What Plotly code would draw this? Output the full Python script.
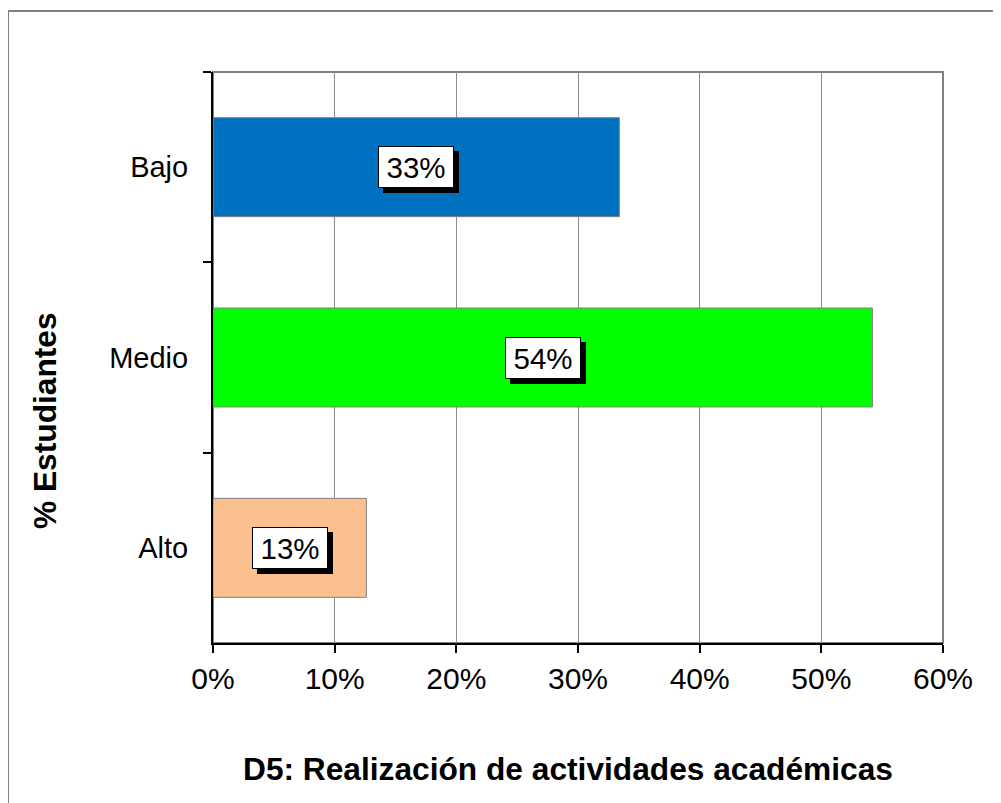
import plotly.graph_objects as go

categories = ["Bajo", "Medio", "Alto"]
values = [0.334, 0.542, 0.126]
bar_colors = ["#0070C0", "#00FF00", "#FAC090"]
x_ticks = [0, 0.1, 0.2, 0.3, 0.4, 0.5, 0.6]
x_title = "D5: Realización de actividades académicas"
y_title = "% Estudiantes"

FONT = "Liberation Sans, Arial, sans-serif"

fig = go.Figure()
fig.add_trace(go.Bar(
    x=values, y=categories, orientation="h",
    marker=dict(color=bar_colors, line=dict(color="#808080", width=1)),
    hoverinfo="skip",
))

annotations = []
for cat, v in zip(categories, values):
    label = f"{round(v * 100)}%"
    common = dict(x=v / 2, y=cat, xref="x", yref="y", showarrow=False,
                  width=64, height=30, borderpad=5, borderwidth=1, align="center",
                  valign="middle")
    # drop shadow box (no text)
    annotations.append(dict(common, text=" ", bgcolor="black", bordercolor="black",
                            font=dict(family=FONT, size=29.5, color="black"),
                            xshift=5, yshift=-5))
    annotations.append(dict(common, text=label, bgcolor="white", bordercolor="black",
                            font=dict(family=FONT, size=29.5, color="black")))

annotations.append(dict(x=(568 - 213) / 730, y=(643 - 769) / 571, xref="paper", yref="paper",
                        text=f"<b>{x_title}</b>", showarrow=False,
                        font=dict(family=FONT, size=31.7, color="black"),
                        xanchor="center", yanchor="middle"))
annotations.append(dict(x=(45 - 213) / 730, y=(643 - 421) / 571, xref="paper", yref="paper",
                        text=f"<b>{y_title}</b>", showarrow=False, textangle=-90,
                        font=dict(family=FONT, size=31.7, color="black"),
                        xanchor="center", yanchor="middle"))

shapes = [
    # outer chart frame
    dict(type="rect", xref="paper", yref="paper",
         x0=(8 - 213) / 730, x1=(1020 - 213) / 730,
         y0=(643 - 830) / 571, y1=(643 - 11) / 571,
         line=dict(color="#808080", width=2), fillcolor="rgba(0,0,0,0)", layer="below"),
    # plot area frame
    dict(type="rect", xref="paper", yref="paper", x0=0, x1=1, y0=0, y1=1,
         line=dict(color="#808080", width=2), fillcolor="rgba(0,0,0,0)", layer="below"),
]

fig.update_layout(
    width=993, height=795,
    margin=dict(l=205, r=58, t=64, b=160, pad=0),
    paper_bgcolor="white", plot_bgcolor="white",
    showlegend=False,
    bargap=0.48,
    font=dict(family=FONT, size=29, color="black"),
    annotations=annotations,
    shapes=shapes,
    xaxis=dict(range=[0, 0.6], tickvals=x_ticks, tickformat=".0%",
               showgrid=True, gridcolor="#8c8c8c", gridwidth=1,
               showline=True, linecolor="black", linewidth=2,
               ticks="outside", ticklen=8, tickwidth=2, tickcolor="black",
               tickfont=dict(family=FONT, size=30, color="black"),
               zeroline=False, fixedrange=True),
    yaxis=dict(autorange="reversed", showgrid=False,
               showline=True, linecolor="black", linewidth=2,
               ticks="outside", ticklen=8, tickwidth=2, tickcolor="black",
               tickson="boundaries", ticklabelstandoff=17,
               tickfont=dict(family=FONT, size=29, color="black"),
               zeroline=False, fixedrange=True),
)

fig.write_html("out.html")
